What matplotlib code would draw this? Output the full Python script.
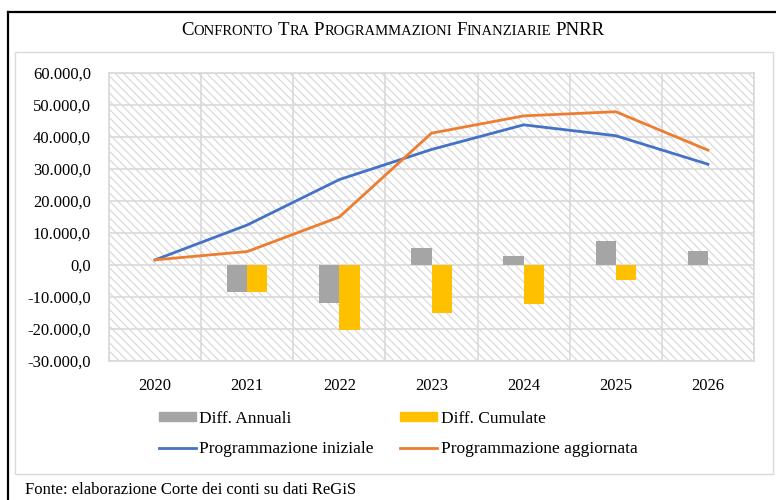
import matplotlib.pyplot as plt
from matplotlib.patches import Rectangle, Patch
from matplotlib.lines import Line2D
from matplotlib.ticker import FuncFormatter, MultipleLocator

# Dati (milioni di euro)
anni = ['2020', '2021', '2022', '2023', '2024', '2025', '2026']
prog_iniziale = [1600, 12500, 26700, 36100, 43800, 40400, 31500]
prog_aggiornata = [1600, 4200, 15000, 41200, 46600, 47900, 35900]
diff_annuali = [0, -8300, -11800, 5200, 2900, 7500, 4500]
diff_cumulate = [0, -8400, -20300, -15100, -12300, -4700, 0]

grigio = '#a5a5a5'
giallo = '#ffc000'
blu = '#4472c4'
arancio = '#ed7d31'
griglia = '#d9d9d9'

plt.rcParams['font.family'] = 'Liberation Serif'
plt.rcParams['hatch.color'] = '#d6d6d6'
plt.rcParams['hatch.linewidth'] = 0.8

W, H = 776, 500
fig = plt.figure(figsize=(W / 100, H / 100), dpi=100)

# Cornici: bordo nero esterno e riquadro grigio del grafico
fig.add_artist(Line2D([8 / W, 8 / W], [0, 1 - 12 / H], color='black', lw=1.6))
fig.add_artist(Line2D([8 / W, 1], [1 - 12 / H, 1 - 12 / H], color='black', lw=1.6))
fig.add_artist(Rectangle((15 / W, 1 - 474 / H), (773 - 15) / W, (474 - 52) / H,
                         transform=fig.transFigure, fill=False, edgecolor=griglia, lw=1))

ax = fig.add_axes([109 / W, 1 - 361 / H, (754 - 109) / W, (361 - 73) / H])
ax.add_patch(Rectangle((0, 0), 1, 1, transform=ax.transAxes, facecolor='white',
                       edgecolor='#d6d6d6', hatch='\\\\\\\\', lw=0, zorder=0))

x = list(range(len(anni)))
w = 0.22
ax.bar([i - w / 2 for i in x], diff_annuali, width=w, color=grigio, zorder=2)
ax.bar([i + w / 2 for i in x], diff_cumulate, width=w, color=giallo, zorder=2)
ax.plot(x, prog_iniziale, color=blu, lw=2, zorder=3)
ax.plot(x, prog_aggiornata, color=arancio, lw=2, zorder=3)

ax.set_xlim(-0.5, 6.5)
ax.set_ylim(-30000, 60000)
ax.yaxis.set_major_locator(MultipleLocator(10000))
ax.yaxis.set_major_formatter(FuncFormatter(lambda v, p: f'{v:,.1f}'.replace(',', 'X').replace('.', ',').replace('X', '.')))
ax.set_xticks(x)
ax.set_xticklabels(anni)
ax.set_xticks([i - 0.5 for i in range(len(anni) + 1)], minor=True)
ax.tick_params(which='both', length=0)
ax.tick_params(axis='y', pad=13, labelsize=12)
ax.tick_params(axis='x', pad=12, labelsize=12)
ax.set_axisbelow(True)
ax.grid(axis='y', which='major', color=griglia, lw=1.2)
ax.grid(axis='x', which='minor', color=griglia, lw=1.2)
for s in ax.spines.values():
    s.set_color(griglia)
    s.set_linewidth(1.2)

# Titolo in maiuscoletto
pezzi = [('C', 13.5), ('ONFRONTO', 10.5), (' ', 10.5), ('T', 13.5), ('RA', 10.5), (' ', 10.5),
         ('P', 13.5), ('ROGRAMMAZIONI', 10.5), (' ', 10.5), ('F', 13.5), ('INANZIARIE', 10.5),
         (' ', 10.5), ('PNRR', 13.5)]
renderer = fig.canvas.get_renderer()
testi = []
larghezze = []
for s, size in pezzi:
    if s == ' ':
        testi.append(None)
        larghezze.append(size * 0.3 * 100 / 72)
        continue
    t = fig.text(0, 1 - 35 / H, s, fontsize=size, va='baseline', ha='left')
    testi.append(t)
    larghezze.append(t.get_window_extent(renderer).width)
xpos = 393 - sum(larghezze) / 2
for t, lw_ in zip(testi, larghezze):
    if t is not None:
        t.set_x(xpos / W)
    xpos += lw_

maniglie = [Patch(color=grigio), Line2D([], [], color=blu, lw=2),
            Patch(color=giallo), Line2D([], [], color=arancio, lw=2)]
etichette = ['Diff. Annuali', 'Programmazione iniziale', 'Diff. Cumulate', 'Programmazione aggiornata']
fig.legend(maniglie, etichette, ncol=2, loc='center', bbox_to_anchor=(398 / W, 1 - 434 / H),
           frameon=False, fontsize=12.5, handlelength=2.15, handleheight=0.5,
           handletextpad=0.2, columnspacing=1.5, labelspacing=0.84)

fig.text(25 / W, 1 - 490 / H, 'Fonte: elaborazione Corte dei conti su dati ReGiS',
         fontsize=12, va='center', ha='left')

fig.savefig('out.png', dpi=100)
